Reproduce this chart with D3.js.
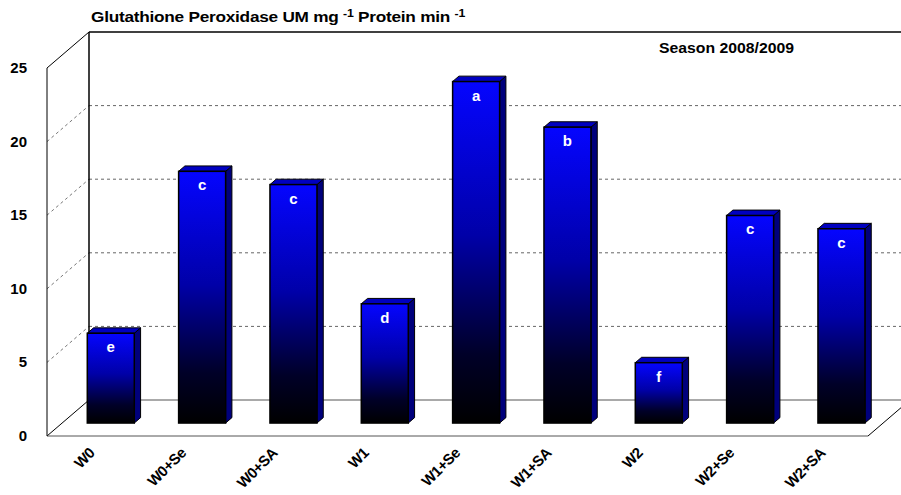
<!DOCTYPE html>
<html>
<head>
<meta charset="utf-8">
<script src="https://cdn.jsdelivr.net/npm/d3@7"></script>
<style>
  body { margin: 0; background: #fff; }
  svg { display: block; font-family: Arial, "Liberation Sans", sans-serif; }
</style>
</head>
<body>
<div id="chart"></div>
<script>
// Data
const categories = ["W0", "W0+Se", "W0+SA", "W1", "W1+Se", "W1+SA", "W2", "W2+Se", "W2+SA"];
const values = [6.1, 17.1, 16.2, 8.1, 23.2, 20.1, 4.1, 14.1, 13.2];
const letters = ["e", "c", "c", "d", "a", "b", "f", "c", "c"];
const yTicks = [0, 5, 10, 15, 20, 25];

// Chart settings
const width = 901, height = 495;
const depth = { x: 42, y: -36 };     // back wall offset from the front plane
const barFront = 0.36, barBack = 0.51; // bar depth position (fraction of depth)
const left = 47, right = 868;

const svg = d3.select("#chart")
  .append("svg")
  .attr("width", width)
  .attr("height", height);

// Scales (front plane)
const yScale = d3.scaleLinear().domain([0, 25]).range([436, 68]);
const xScale = d3.scaleBand().domain(categories).range([50, 872]);
const barWidth = 47;

const off = f => [depth.x * f, depth.y * f];

// Gradient for bar fronts
const defs = svg.append("defs");
const grad = defs.append("linearGradient")
  .attr("id", "barGrad")
  .attr("x1", 0).attr("y1", 0).attr("x2", 0).attr("y2", 1);
grad.append("stop").attr("offset", "0%").attr("stop-color", "#0505ff");
grad.append("stop").attr("offset", "45%").attr("stop-color", "#0000a8");
grad.append("stop").attr("offset", "80%").attr("stop-color", "#000028");
grad.append("stop").attr("offset", "100%").attr("stop-color", "#000000");

// Walls and gridlines
const y0 = yScale(0), yTop = yScale(25);
const walls = svg.append("g");

// left wall diagonals (dashed inside, solid at 0 and 25)
yTicks.forEach(t => {
  const solid = t === 0 || t === 25;
  walls.append("line")
    .attr("x1", left).attr("y1", yScale(t))
    .attr("x2", left + depth.x).attr("y2", yScale(t) + depth.y)
    .attr("stroke", solid ? "#000" : "#777")
    .attr("stroke-dasharray", solid ? null : "3,3");
});

// back wall gridlines
yTicks.filter(t => t > 0 && t < 25).forEach(t => {
  walls.append("line")
    .attr("x1", left + depth.x).attr("y1", yScale(t) + depth.y)
    .attr("x2", right + depth.x).attr("y2", yScale(t) + depth.y)
    .attr("stroke", "#666")
    .attr("stroke-dasharray", "3,3");
});

// floor back edge
walls.append("line")
  .attr("x1", left + depth.x).attr("y1", y0 + depth.y)
  .attr("x2", right + depth.x).attr("y2", y0 + depth.y)
  .attr("stroke", "#555");
// floor front edge
walls.append("line")
  .attr("x1", left).attr("y1", y0)
  .attr("x2", right).attr("y2", y0)
  .attr("stroke", "#555");
// floor right diagonal
walls.append("line")
  .attr("x1", right).attr("y1", y0)
  .attr("x2", right + depth.x).attr("y2", y0 + depth.y)
  .attr("stroke", "#000");
// back wall top
walls.append("line")
  .attr("x1", left + depth.x).attr("y1", yTop + depth.y)
  .attr("x2", right + depth.x).attr("y2", yTop + depth.y)
  .attr("stroke", "#000").attr("stroke-width", 1.5);
// back wall left edge
walls.append("line")
  .attr("x1", left + depth.x).attr("y1", yTop + depth.y)
  .attr("x2", left + depth.x).attr("y2", y0 + depth.y)
  .attr("stroke", "#000").attr("stroke-width", 1.5);
// left wall front edge
walls.append("line")
  .attr("x1", left).attr("y1", yTop)
  .attr("x2", left).attr("y2", y0)
  .attr("stroke", "#000");

// Y axis labels
svg.append("g").selectAll("text")
  .data(yTicks)
  .enter()
  .append("text")
  .attr("x", 27)
  .attr("y", d => yScale(d) + 5)
  .attr("text-anchor", "end")
  .attr("font-size", 15)
  .attr("font-weight", "bold")
  .text(d => d);

// Bars
const bars = svg.append("g")
  .selectAll("g")
  .data(categories.map((c, i) => ({ c, v: values[i], l: letters[i] })))
  .enter()
  .append("g");

const [fx, fy] = off(barFront);
const [bx, by] = off(barBack);
const sx = bx - fx, sy = by - fy;
const bx0 = d => xScale(d.c) + xScale.bandwidth() / 2 - barWidth / 2 + fx;
const bTop = d => yScale(d.v) + fy;
const bBot = y0 + fy;

// side face
bars.append("path")
  .attr("d", d => {
    const x = bx0(d) + barWidth;
    return `M${x},${bTop(d)}L${x + sx},${bTop(d) + sy}L${x + sx},${bBot + sy}L${x},${bBot}Z`;
  })
  .attr("fill", "#00007c")
  .attr("stroke", "#000")
  .attr("stroke-width", 1)
  .attr("stroke-linejoin", "round");

// top face
bars.append("path")
  .attr("d", d => {
    const x = bx0(d), y = bTop(d);
    return `M${x},${y}L${x + sx},${y + sy}L${x + barWidth + sx},${y + sy}L${x + barWidth},${y}Z`;
  })
  .attr("fill", "#0000c0")
  .attr("stroke", "#000")
  .attr("stroke-width", 1)
  .attr("stroke-linejoin", "round");

// front face
bars.append("rect")
  .attr("x", bx0)
  .attr("y", bTop)
  .attr("width", barWidth)
  .attr("height", d => bBot - bTop(d))
  .attr("fill", "url(#barGrad)")
  .attr("stroke", "#000")
  .attr("stroke-width", 1.5);

// letters
bars.append("text")
  .attr("x", d => bx0(d) + barWidth / 2)
  .attr("y", d => bTop(d) + 19)
  .attr("text-anchor", "middle")
  .attr("fill", "#fff")
  .attr("font-size", 15)
  .attr("font-weight", "bold")
  .text(d => d.l);

// X labels
svg.append("g").selectAll("text")
  .data(categories)
  .enter()
  .append("text")
  .attr("transform", d => `translate(${xScale(d) + xScale.bandwidth() / 2},454) rotate(-45)`)
  .attr("text-anchor", "end")
  .attr("font-size", 15)
  .attr("font-weight", "bold")
  .attr("letter-spacing", -0.5)
  .text(d => d);

// Title
const title = svg.append("text")
  .attr("transform", "translate(91,22) scale(1.23,1)")
  .attr("font-size", 14)
  .attr("font-weight", "bold")
  .attr("letter-spacing", -0.2);
title.append("tspan").text("Glutathione Peroxidase UM mg  ");
title.append("tspan").attr("font-size", 10).attr("dy", -5).text("-1");
title.append("tspan").attr("dy", 5).text(" Protein min ");
title.append("tspan").attr("font-size", 10).attr("dy", -5).text("-1");

svg.append("text")
  .attr("x", 659)
  .attr("y", 53)
  .attr("font-size", 15)
  .attr("font-weight", "bold")
  .attr("textLength", 135)
  .attr("lengthAdjust", "spacingAndGlyphs")
  .text("Season 2008/2009");
</script>
</body>
</html>
